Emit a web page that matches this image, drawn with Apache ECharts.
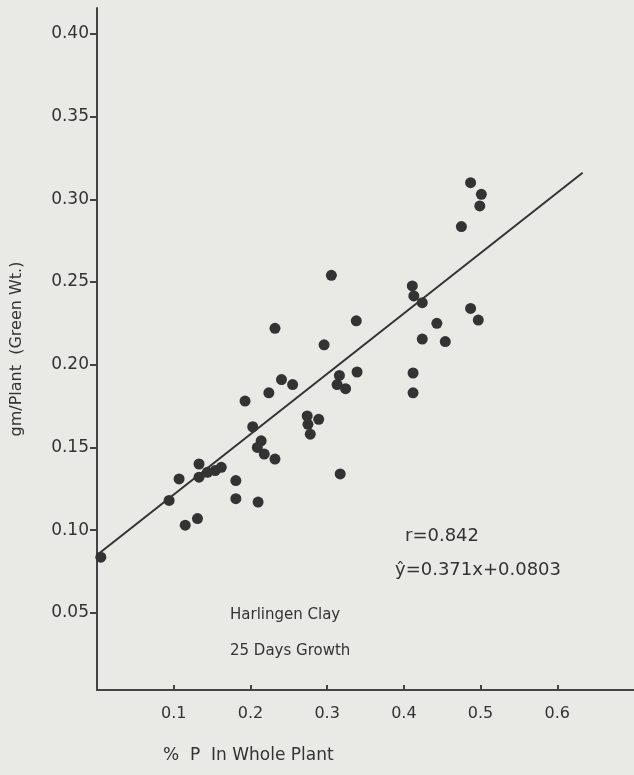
<!DOCTYPE html>
<html>
<head>
<meta charset="utf-8">
<script src="https://cdn.jsdelivr.net/npm/echarts@6/dist/echarts.min.js"></script>
<style>
html,body{margin:0;padding:0;background:#e9e9e6;}
#chart{width:634px;height:775px;}
</style>
</head>
<body>
<div id="chart"></div>
<script>
// % P in whole plant
const pValues = [0.005,0.094,0.107,0.115,0.131,0.133,0.133,0.144,0.154,0.162,0.181,0.181,0.210,0.193,0.203,0.214,0.209,0.218,0.232,0.224,0.232,0.2405,0.255,0.274,0.289,0.275,0.278,0.296,0.3055,0.316,0.313,0.324,0.339,0.338,0.317,0.411,0.413,0.424,0.487,0.497,0.443,0.424,0.454,0.412,0.412,0.487,0.501,0.499,0.475];
// gm / plant (green wt.)
const gmValues = [0.0837,0.118,0.131,0.103,0.107,0.140,0.132,0.135,0.136,0.138,0.130,0.119,0.117,0.178,0.1625,0.154,0.150,0.146,0.143,0.183,0.222,0.191,0.188,0.169,0.167,0.164,0.158,0.212,0.254,0.1935,0.188,0.1855,0.1956,0.2265,0.134,0.2476,0.2416,0.2375,0.234,0.227,0.225,0.2155,0.214,0.195,0.183,0.310,0.303,0.296,0.2835];
// fitted line endpoints as drawn
const fitX = [0, 0.633];
const fitY = [0.085, 0.316];
const xTicks = [0.1,0.2,0.3,0.4,0.5,0.6];
const yTicks = [0.05,0.10,0.15,0.20,0.25,0.30,0.35,0.40];

const points = pValues.map((x,i)=>[x,gmValues[i]]);
const fitLine = fitX.map((x,i)=>[x,fitY[i]]);
const ink = '#333333';
const font = 'DejaVu Sans';

const chart = echarts.init(document.getElementById('chart'));
chart.setOption({
  backgroundColor:'#e9e9e6',
  animation:false,
  grid:{left:97,right:0,top:8,bottom:85,containLabel:false},
  xAxis:{
    type:'value',min:0,max:0.7,
    axisLine:{lineStyle:{color:'#444',width:2}},
    axisTick:{inside:true,length:5,lineStyle:{color:'#444',width:2},customValues:xTicks},
    axisLabel:{customValues:xTicks,margin:16,color:'#333',fontFamily:font,fontSize:16,
      formatter:v=>v.toFixed(1)},
    splitLine:{show:false}
  },
  yAxis:{
    type:'value',min:0.0034,max:0.4156,
    name:'gm/Plant  (Green Wt.)',nameLocation:'middle',nameGap:72,nameRotate:90,
    nameTextStyle:{color:'#333',fontFamily:font,fontSize:16},
    axisLine:{lineStyle:{color:'#444',width:2}},
    axisTick:{inside:false,length:7,lineStyle:{color:'#444',width:2},customValues:yTicks},
    axisLabel:{customValues:yTicks,margin:8,color:'#333',fontFamily:font,fontSize:17,
      formatter:v=>v.toFixed(2)},
    splitLine:{show:false}
  },
  series:[
    {type:'line',data:fitLine,symbol:'none',lineStyle:{color:ink,width:2},z:1},
    {type:'scatter',data:points,symbol:'circle',symbolSize:11,itemStyle:{color:ink,opacity:1},z:2}
  ],
  graphic:[
    {type:'text',left:163,top:747,style:{text:'%  P  In Whole Plant',fill:'#333',font:'17px "DejaVu Sans"'}},
    {type:'text',left:405,top:527,style:{text:'r=0.842',fill:'#333',font:'18px "DejaVu Sans"'}},
    {type:'text',left:395,top:561,style:{text:'ŷ=0.371x+0.0803',fill:'#333',font:'18px "DejaVu Sans"'}},
    {type:'text',left:230,top:608,style:{text:'Harlingen Clay',fill:'#333',font:'15px "DejaVu Sans"'}},
    {type:'text',left:230,top:644,style:{text:'25 Days Growth',fill:'#333',font:'15px "DejaVu Sans"'}}
  ]
});
</script>
</body>
</html>
